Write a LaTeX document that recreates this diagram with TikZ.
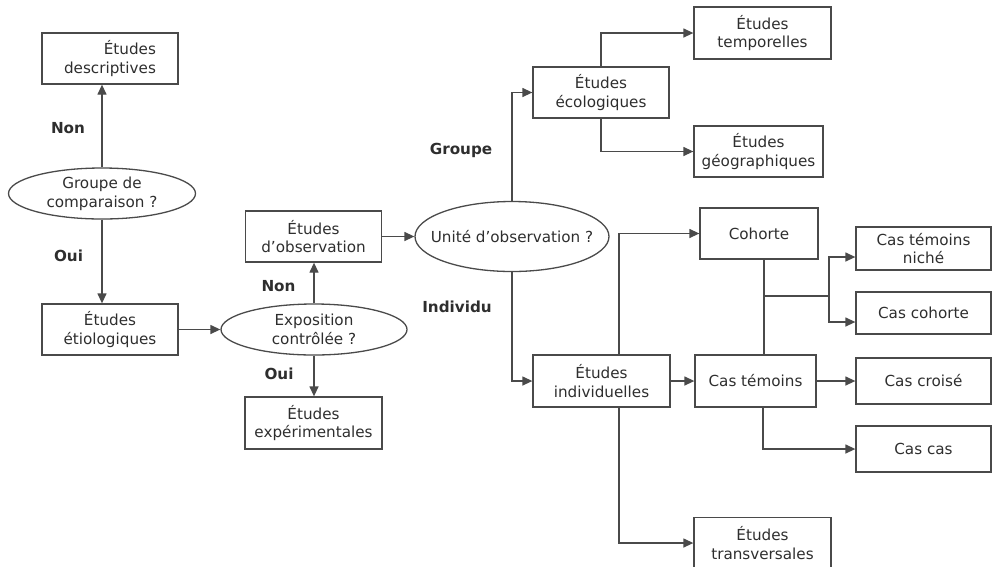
\documentclass[tikz,border=0pt]{standalone}
\usepackage{fontspec}
\setmainfont{DejaVu Sans}
\usepackage{tikz}
\usetikzlibrary{arrows.meta,shapes.geometric}

\definecolor{ink}{HTML}{2E2E2E}
\definecolor{wire}{HTML}{4A4A4A}

\begin{document}
\begin{tikzpicture}[
    x=1pt, y=-1pt,
    font=\fontsize{15.2}{18.7}\selectfont,
    box/.style={draw=wire,line width=1.3pt,rectangle,align=center,inner sep=0pt,
      text=ink,minimum width=136pt,minimum height=51pt},
    question/.style={draw=wire,line width=1.3pt,ellipse,align=center,inner sep=0pt,
      text=ink,minimum width=187pt,minimum height=51pt},
    arr/.style={draw=wire,line width=1.3pt,-{Triangle[length=10pt,width=9pt]}},
    link/.style={draw=wire,line width=1.3pt},
    lbl/.style={font=\fontsize{15.2}{18.7}\selectfont\bfseries,text=ink}
    ]
    \useasboundingbox (0,0) rectangle (993,566);

    % left branch
    \node[box,align=right] (desc) at (110,58.5) {Études\\descriptives};
    \node[question] (comp) at (102,193.5) {Groupe de\\comparaison ?};
    \node[box] (etio) at (110,329.5) {Études\\étiologiques};
    \node[question,minimum width=186pt] (expo) at (314,329.5) {Exposition\\contrôlée ?};
    \node[box] (obs) at (313.5,236.5) {Études\\d’observation};
    \node[box,minimum width=137pt,minimum height=52pt] (exper) at (313.5,423) {Études\\expérimentales};
    \node[question,inner xsep=-17pt,minimum width=194pt,minimum height=70pt] (unite) at (512,236.5) {Unité d’observation ?};

    % groups
    \node[box] (eco) at (601,92.5) {Études\\écologiques};
    \node[box,minimum width=137pt,minimum height=52pt] (temp) at (762.5,33) {Études\\temporelles};
    \node[box,minimum width=129pt] (geo) at (758.5,151.5) {Études\\géographiques};

    % individuals
    \node[box,minimum width=137pt,minimum height=52pt] (indiv) at (601.5,381) {Études\\individuelles};
    \node[box,minimum width=118pt] (cohorte) at (759,233.5) {Cohorte};
    \node[box,minimum width=121pt,minimum height=52pt] (castem) at (755.5,381) {Cas témoins};
    \node[box,minimum width=137pt] (transv) at (762.5,543) {Études\\transversales};
    \node[box,minimum width=135pt,minimum height=43pt] (niche) at (923.5,248.5) {Cas témoins\\niché};
    \node[box,minimum width=135pt,minimum height=42pt] (cascoh) at (923.5,313) {Cas cohorte};
    \node[box,minimum width=135pt,minimum height=46pt] (croise) at (923.5,381) {Cas croisé};
    \node[box,minimum width=135pt,minimum height=46pt] (cascas) at (923.5,449) {Cas cas};

    % answers
    \node[lbl] (non1) at (68,128) {Non};
    \node[lbl] (oui1) at (68.5,256) {Oui};
    \node[lbl] (non2) at (278.5,286) {Non};
    \node[lbl] (oui2) at (279,374) {Oui};
    \node[lbl] (grp) at (461,150) {Groupe};
    \node[lbl] (ind) at (457,307) {Individu};

    \draw[arr] (comp.north) -- (comp.north |- desc.south);
    \draw[arr] (comp.south) -- (comp.south |- etio.north);
    \draw[arr] (etio.east) -- (expo.west);
    \draw[arr] (expo.north) -- (expo.north |- obs.south);
    \draw[arr] (expo.south) -- (expo.south |- exper.north);
    \draw[arr] (obs.east) -- (unite.west);
    \draw[arr] (unite.north) |- (eco.west);
    \draw[arr] (unite.south) |- (indiv.west);
    \draw[arr] (eco.north) |- (temp.west);
    \draw[arr] (eco.south) |- (geo.west);
    \draw[arr] ([xshift=17.5pt]indiv.north) |- (cohorte.west);
    \draw[arr] ([xshift=17.5pt]indiv.south) |- (transv.west);
    \draw[arr] (indiv.east) -- (castem.west);

    % nested designs
    \coordinate (split) at (764,296);
    \coordinate (fork) at (829,296);
    \draw[link] (cohorte.south -| split) -- (castem.north -| split);
    \draw[link] (split) -- (fork);
    \draw[arr] (fork) |- ([yshift=-8.5pt]niche.west);
    \draw[arr] (fork) |- ([yshift=-9pt]cascoh.west);
    \draw[arr] (castem.east) -- (croise.west);
    \draw[arr] ([xshift=7.5pt]castem.south) |- (cascas.west);
  \end{tikzpicture}
\end{document}
